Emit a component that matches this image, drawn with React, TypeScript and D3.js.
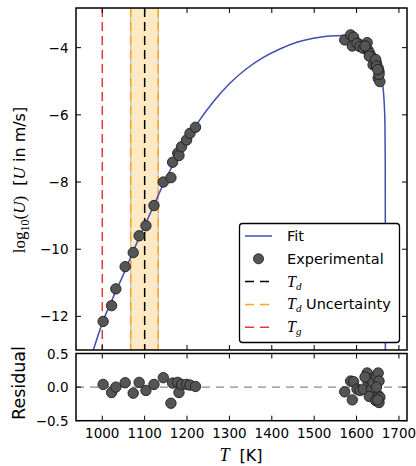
import React from 'react';
import * as d3 from 'd3';

// ---- data ----
const fitT = [979, 1000, 1025, 1050, 1075, 1100, 1125, 1150, 1175, 1200, 1222, 1262, 1301, 1341, 1380, 1419, 1459, 1498, 1537, 1568, 1600, 1620, 1635, 1645, 1652, 1658, 1662, 1665, 1667, 1667.7, 1668];
const fitLogU = [-13.0, -12.2, -11.45, -10.75, -10.0, -9.3, -8.6, -7.9, -7.3, -6.75, -6.3, -5.61, -5.06, -4.62, -4.29, -4.04, -3.84, -3.72, -3.65, -3.64, -3.7, -3.85, -4.05, -4.3, -4.6, -4.95, -5.15, -5.6, -6.3, -7.5, -13.2];

const expT = [1002, 1022, 1032, 1054, 1073, 1087, 1103, 1122, 1144, 1162, 1166, 1178, 1181, 1187, 1199, 1207, 1220,
  1572, 1586, 1593, 1590, 1601, 1608, 1616, 1625, 1627, 1631, 1635, 1630, 1639, 1647, 1651, 1653, 1651, 1655, 1645, 1620, 1647, 1653, 1650];
const expLogU = [-12.15, -11.68, -11.18, -10.52, -10.1, -9.6, -9.3, -8.7, -8.0, -7.87, -7.41, -7.14, -7.21, -6.95, -6.75, -6.55, -6.37,
  -3.77, -3.62, -3.69, -3.95, -3.87, -3.97, -4.02, -3.85, -4.07, -4.17, -4.27, -4.25, -4.51, -4.46, -4.61, -4.71, -4.91, -5.01, -4.35, -3.95, -4.55, -4.8, -4.65];
const expResidual = [0.04, -0.08, 0.0, 0.065, -0.09, 0.07, -0.05, 0.04, 0.14, -0.24, 0.06, 0.07, -0.08, 0.04, 0.04, 0.03, 0.01,
  -0.07, 0.09, 0.08, -0.19, -0.03, -0.05, -0.03, 0.21, 0.09, 0.12, -0.03, -0.14, 0.07, 0.16, 0.21, 0.09, -0.12, -0.15, -0.2, 0.15, 0.0, -0.23, -0.19];

const xTicks = [1000, 1100, 1200, 1300, 1400, 1500, 1600, 1700];
const yTicks = [-4, -6, -8, -10, -12];
const resTicks = [0.5, 0.0, -0.5];
const Tg = [1000];
const Td = [1100];
const TdBand = [1067, 1132];

const legendItems = ['Fit', 'Experimental', 'Td', 'TdU', 'Tg'];

const SANS = 'DejaVu Sans, sans-serif';
const SERIF = 'Liberation Serif, DejaVu Serif, serif';

export default function App() {
  const L = 76, R = 407, T0 = 8, B0 = 350, RT = 353.5, RB = 420.7;
  const x = d3.scaleLinear().domain([938, 1719]).range([L, R]);
  const y = d3.scaleLinear().domain([-13, -2.82]).range([B0, T0]);
  const yr = d3.scaleLinear().domain([-0.5, 0.5]).range([RB, RT]);

  const fitPts: [number, number][] = fitT.map((t, i) => [t, fitLogU[i]]);
  const line = d3.line<[number, number]>().x(d => x(d[0])).y(d => y(d[1])).curve(d3.curveMonotoneX);

  const tickLen = 5;
  const dash = '9,5';

  const legX = 239.5, legY = 223.5, legW = 160, legH = 119;
  const rowY = (i: number) => legY + 12.5 + i * 22.8;

  return (
    <svg width={416} height={466} style={{ position: 'absolute', left: 0, top: 0, background: '#fff' }} fontFamily={SANS}>
      <defs>
        <clipPath id="mainClip"><rect x={L} y={T0} width={R - L} height={B0 - T0} /></clipPath>
        <clipPath id="resClip"><rect x={L} y={RT} width={R - L} height={RB - RT} /></clipPath>
      </defs>
      <rect x={0} y={0} width={416} height={466} fill="#fff" />

      {/* main panel */}
      <g clipPath="url(#mainClip)">
        <rect x={x(TdBand[0])} y={T0} width={x(TdBand[1]) - x(TdBand[0])} height={B0 - T0} fill="#fde9c4" stroke="#bdbdbd" strokeWidth={1.2} />
        {TdBand.map((t, i) => (
          <line key={'b' + i} x1={x(t)} x2={x(t)} y1={T0} y2={B0} stroke="#ffa21f" strokeWidth={1.5} strokeDasharray={dash} />
        ))}
        {Td.map((t, i) => (
          <line key={'d' + i} x1={x(t)} x2={x(t)} y1={T0} y2={B0} stroke="#000" strokeWidth={1.5} strokeDasharray={dash} />
        ))}
        {Tg.map((t, i) => (
          <line key={'g' + i} x1={x(t)} x2={x(t)} y1={T0} y2={B0} stroke="#f0353a" strokeWidth={1.5} strokeDasharray={dash} />
        ))}
        <path d={line(fitPts) || ''} fill="none" stroke="#3f4fb4" strokeWidth={1.5} />
        {expT.map((t, i) => (
          <circle key={'p' + i} cx={x(t)} cy={y(expLogU[i])} r={5.2} fill="#555555" stroke="#1e1e1e" strokeWidth={0.9} />
        ))}
      </g>

      {/* residual panel */}
      <g clipPath="url(#resClip)">
        <line x1={L} x2={R} y1={yr(0)} y2={yr(0)} stroke="#888" strokeWidth={1.4} strokeDasharray="8,6" />
        {expT.map((t, i) => (
          <circle key={'r' + i} cx={x(t)} cy={yr(expResidual[i])} r={5.2} fill="#555555" stroke="#1e1e1e" strokeWidth={0.9} />
        ))}
      </g>

      {/* legend */}
      <rect x={legX} y={legY} width={legW} height={legH} rx={3} fill="#fff" stroke="#000" strokeWidth={1.3} />
      {legendItems.map((k, i) => {
        const ry = rowY(i);
        const hx1 = 245, hx2 = 272, tx = 287;
        let handle: React.ReactNode = null;
        if (k === 'Fit') handle = <line x1={hx1} x2={hx2} y1={ry} y2={ry} stroke="#3f4fb4" strokeWidth={1.5} />;
        else if (k === 'Experimental') handle = <circle cx={(hx1 + hx2) / 2} cy={ry} r={5} fill="#555" stroke="#1e1e1e" strokeWidth={0.9} />;
        else {
          const c = k === 'Td' ? '#000' : k === 'TdU' ? '#ffa21f' : '#f0353a';
          handle = <line x1={hx1} x2={hx2} y1={ry} y2={ry} stroke={c} strokeWidth={1.5} strokeDasharray="9,6" />;
        }
        let label: React.ReactNode;
        if (k === 'Fit' || k === 'Experimental') label = <text x={tx} y={ry + 5} fontSize={14.5}>{k}</text>;
        else {
          const sub = k === 'Tg' ? 'g' : 'd';
          label = (
            <text x={tx} y={ry + 5} fontSize={14.5}>
              <tspan fontFamily={SERIF} fontStyle="italic" fontSize={16}>T</tspan>
              <tspan fontFamily={SERIF} fontStyle="italic" fontSize={11} dy={3}>{sub}</tspan>
              {k === 'TdU' ? <tspan dy={-3}> Uncertainty</tspan> : null}
            </text>
          );
        }
        return <g key={'l' + i}>{handle}{label}</g>;
      })}

      {/* frames */}
      <rect x={L} y={T0} width={R - L} height={B0 - T0} fill="none" stroke="#000" strokeWidth={1.5} />
      <rect x={L} y={RT} width={R - L} height={RB - RT} fill="none" stroke="#000" strokeWidth={1.5} />

      {/* x ticks */}
      {xTicks.map(t => (
        <g key={'xt' + t}>
          <line x1={x(t)} x2={x(t)} y1={T0} y2={T0 + tickLen} stroke="#000" />
          <line x1={x(t)} x2={x(t)} y1={B0} y2={B0 - tickLen} stroke="#000" />
          <line x1={x(t)} x2={x(t)} y1={RT} y2={RT + tickLen} stroke="#000" />
          <line x1={x(t)} x2={x(t)} y1={RB} y2={RB - tickLen} stroke="#000" />
          <text x={x(t)} y={438} fontSize={13.5} textAnchor="middle">{t}</text>
        </g>
      ))}
      {/* y ticks main */}
      {yTicks.map(v => (
        <g key={'yt' + v}>
          <line x1={L} x2={L + tickLen} y1={y(v)} y2={y(v)} stroke="#000" />
          <line x1={R} x2={R - tickLen} y1={y(v)} y2={y(v)} stroke="#000" />
          <text x={68.5} y={y(v) + 5} fontSize={13.5} textAnchor="end">{d3.format('d')(v).replace('-', '\u2212')}</text>
        </g>
      ))}
      {/* y ticks residual */}
      {resTicks.map(v => (
        <g key={'rt' + v}>
          <line x1={L} x2={L + tickLen} y1={yr(v)} y2={yr(v)} stroke="#000" />
          <line x1={R} x2={R - tickLen} y1={yr(v)} y2={yr(v)} stroke="#000" />
          <text x={68.5} y={yr(v) + 5} fontSize={13.5} textAnchor="end">{d3.format('.1f')(v).replace('-', '\u2212')}</text>
        </g>
      ))}

      {/* axis labels */}
      <text transform="translate(25,180) rotate(-90)" textAnchor="middle" fontSize={16}>
        <tspan fontFamily={SERIF} fontSize={17}>log</tspan>
        <tspan fontFamily={SERIF} fontSize={12} dy={4}>10</tspan>
        <tspan fontFamily={SERIF} fontSize={17} dy={-4}>(</tspan>
        <tspan fontFamily={SERIF} fontSize={17} fontStyle="italic">U</tspan>
        <tspan fontFamily={SERIF} fontSize={17}>)</tspan>
        <tspan xmlSpace="preserve">{'  ['}</tspan>
        <tspan fontFamily={SERIF} fontSize={17} fontStyle="italic">U</tspan>
        <tspan> in m/s]</tspan>
      </text>
      <text transform="translate(25,383) rotate(-90)" textAnchor="middle" fontSize={17.5}>Residual</text>
      <text x={241} y={461} textAnchor="middle" fontSize={16}>
        <tspan fontFamily={SERIF} fontStyle="italic" fontSize={18}>T</tspan>
        <tspan xmlSpace="preserve">{'  [K]'}</tspan>
      </text>
    </svg>
  );
}
